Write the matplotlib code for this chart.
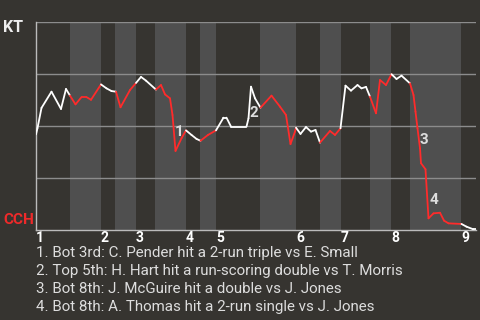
import numpy as np
import matplotlib
matplotlib.use("Agg")
import matplotlib.pyplot as plt
from matplotlib.collections import LineCollection
from matplotlib.transforms import offset_copy, blended_transform_factory

# win probability for KT, by play number
plays = [0.0, 0.3, 1.1, 3.1, 5.0, 6.0, 6.8, 7.9, 9.1, 10.1, 11.0, 13.0, 14.1, 15.1,
         16.0, 16.9, 18.8, 20.0, 21.0, 22.0, 24.0, 25.0, 25.8, 26.8, 27.3, 27.9,
         29.1, 30.0, 31.1, 32.1, 32.9, 34.4, 36.0, 37.5, 38.1, 39.0, 42.1, 42.5,
         43.0, 43.8, 44.9, 47.1, 48.8, 50.0, 50.9, 51.8, 52.0, 52.9, 54.0, 55.0,
         55.9, 56.8, 58.8, 59.8, 60.9, 61.9, 63.0, 64.3, 65.1, 66.0, 66.8, 68.0,
         68.8, 70.0, 71.1, 72.1, 73.1, 74.8, 75.5, 75.9, 76.3, 76.8, 77.0, 77.9,
         78.5, 79.5, 80.8, 81.6, 82.5, 85.1, 86.1, 87.5, 88.1]
wp_kt = [0.46, 0.49, 0.587, 0.665, 0.582, 0.678, 0.646, 0.604, 0.639, 0.639, 0.626,
         0.700, 0.681, 0.668, 0.665, 0.590, 0.673, 0.707, 0.736, 0.718, 0.675,
         0.697, 0.652, 0.633, 0.553, 0.380, 0.441, 0.479, 0.457, 0.438, 0.429,
         0.457, 0.479, 0.540, 0.540, 0.497, 0.497, 0.537, 0.689, 0.633, 0.588,
         0.646, 0.593, 0.553, 0.413, 0.473, 0.492, 0.462, 0.495, 0.473, 0.481,
         0.420, 0.476, 0.457, 0.489, 0.694, 0.670, 0.697, 0.681, 0.688, 0.641,
         0.561, 0.721, 0.697, 0.749, 0.726, 0.742, 0.705, 0.649, 0.569, 0.489,
         0.393, 0.321, 0.292, 0.056, 0.080, 0.083, 0.045, 0.032, 0.029, 0.016,
         0.003, 0.003]

# half-inning boundaries (play number)
top_starts = [0.0, 13.0, 20.0, 30.0, 36.0, 52.0, 61.0, 71.0, 85.0]
bot_starts = [6.8, 15.8, 23.8, 32.8, 44.8, 56.8, 66.8, 74.8]
game_end = 88.0
inning_labels = ['1', '2', '3', '4', '5', '6', '7', '8', '9']

marker_x = [28.6, 43.6, 77.6, 79.6]
marker_y = [0.471, 0.5625, 0.433, 0.144]
notes = [
    "1. Bot 3rd: C. Pender hit a 2-run triple vs E. Small",
    "2. Top 5th: H. Hart hit a run-scoring double vs T. Morris",
    "3. Bot 8th: J. McGuire hit a double vs J. Jones",
    "4. Bot 8th: A. Thomas hit a 2-run single vs J. Jones",
]

bg = '#363430'
band = '#4f4f4f'
red = '#ff2b2b'

plt.rcParams['font.family'] = ['Roboto', 'DejaVu Sans']

fig = plt.figure(figsize=(4.8, 3.2), dpi=100, facecolor=bg)
ax = fig.add_axes([36/480, 90/320, 440/480, 208/320])
ax.set_facecolor(bg)
ax.set_xlim(0, game_end)
ax.set_ylim(0, 1)

# bottom halves shaded
bot_ends = top_starts[1:]
for s, e in zip(bot_starts, bot_ends):
    ax.axvspan(s, e, color=band, lw=0, zorder=0)

for yv in [0.25, 0.5, 0.75, 1.0]:
    ax.axhline(yv, color='#8c8c8c', lw=1.0, zorder=1)

# colour segments by half inning
pts = np.column_stack([plays, wp_kt])
segs = np.stack([pts[:-1], pts[1:]], axis=1)
colors = []
for a, b in zip(plays[:-1], plays[1:]):
    mid = (a + b) / 2
    is_bot = any(s <= mid < e for s, e in zip(bot_starts, bot_ends))
    colors.append(red if is_bot else 'white')
lc = LineCollection(segs, colors=colors, linewidths=1.3, zorder=3,
                    capstyle='round', joinstyle='round')
ax.add_collection(lc)

for i, (mx, my) in enumerate(zip(marker_x, marker_y)):
    ax.text(mx, my, str(i + 1), color='#dddddd', fontsize=11, fontweight='bold',
            ha='center', va='center', zorder=4)

for sp in ['top', 'right']:
    ax.spines[sp].set_visible(False)
for sp in ['left', 'bottom']:
    ax.spines[sp].set_color('#bbbbbb')
    ax.spines[sp].set_linewidth(1.0)
ax.set_xticks([])
ax.set_yticks([])

trans = blended_transform_factory(ax.transData, ax.transAxes)
trans = offset_copy(trans, fig=fig, x=4, y=-1, units='dots')
for xs, lab in zip(top_starts, inning_labels):
    ax.text(xs, 0, lab, transform=trans, color='white', fontsize=10,
            fontweight='bold', ha='center', va='top', clip_on=False)

fig.text(3/480, 1 - 28/320, 'KT', color='#eeeeee', fontsize=11.5, fontweight='bold',
         ha='left', va='center')
fig.text(3/480, 1 - 220/320, 'CCH', color='#ee2a2a', fontsize=11, fontweight='bold',
         ha='left', va='center')

for i, n in enumerate(notes):
    fig.text(36/480, 1 - (253 + 18 * i)/320, n, color='#dddddd', fontsize=10.9,
             ha='left', va='center')

fig.savefig('out.png', dpi=100, facecolor=bg)
